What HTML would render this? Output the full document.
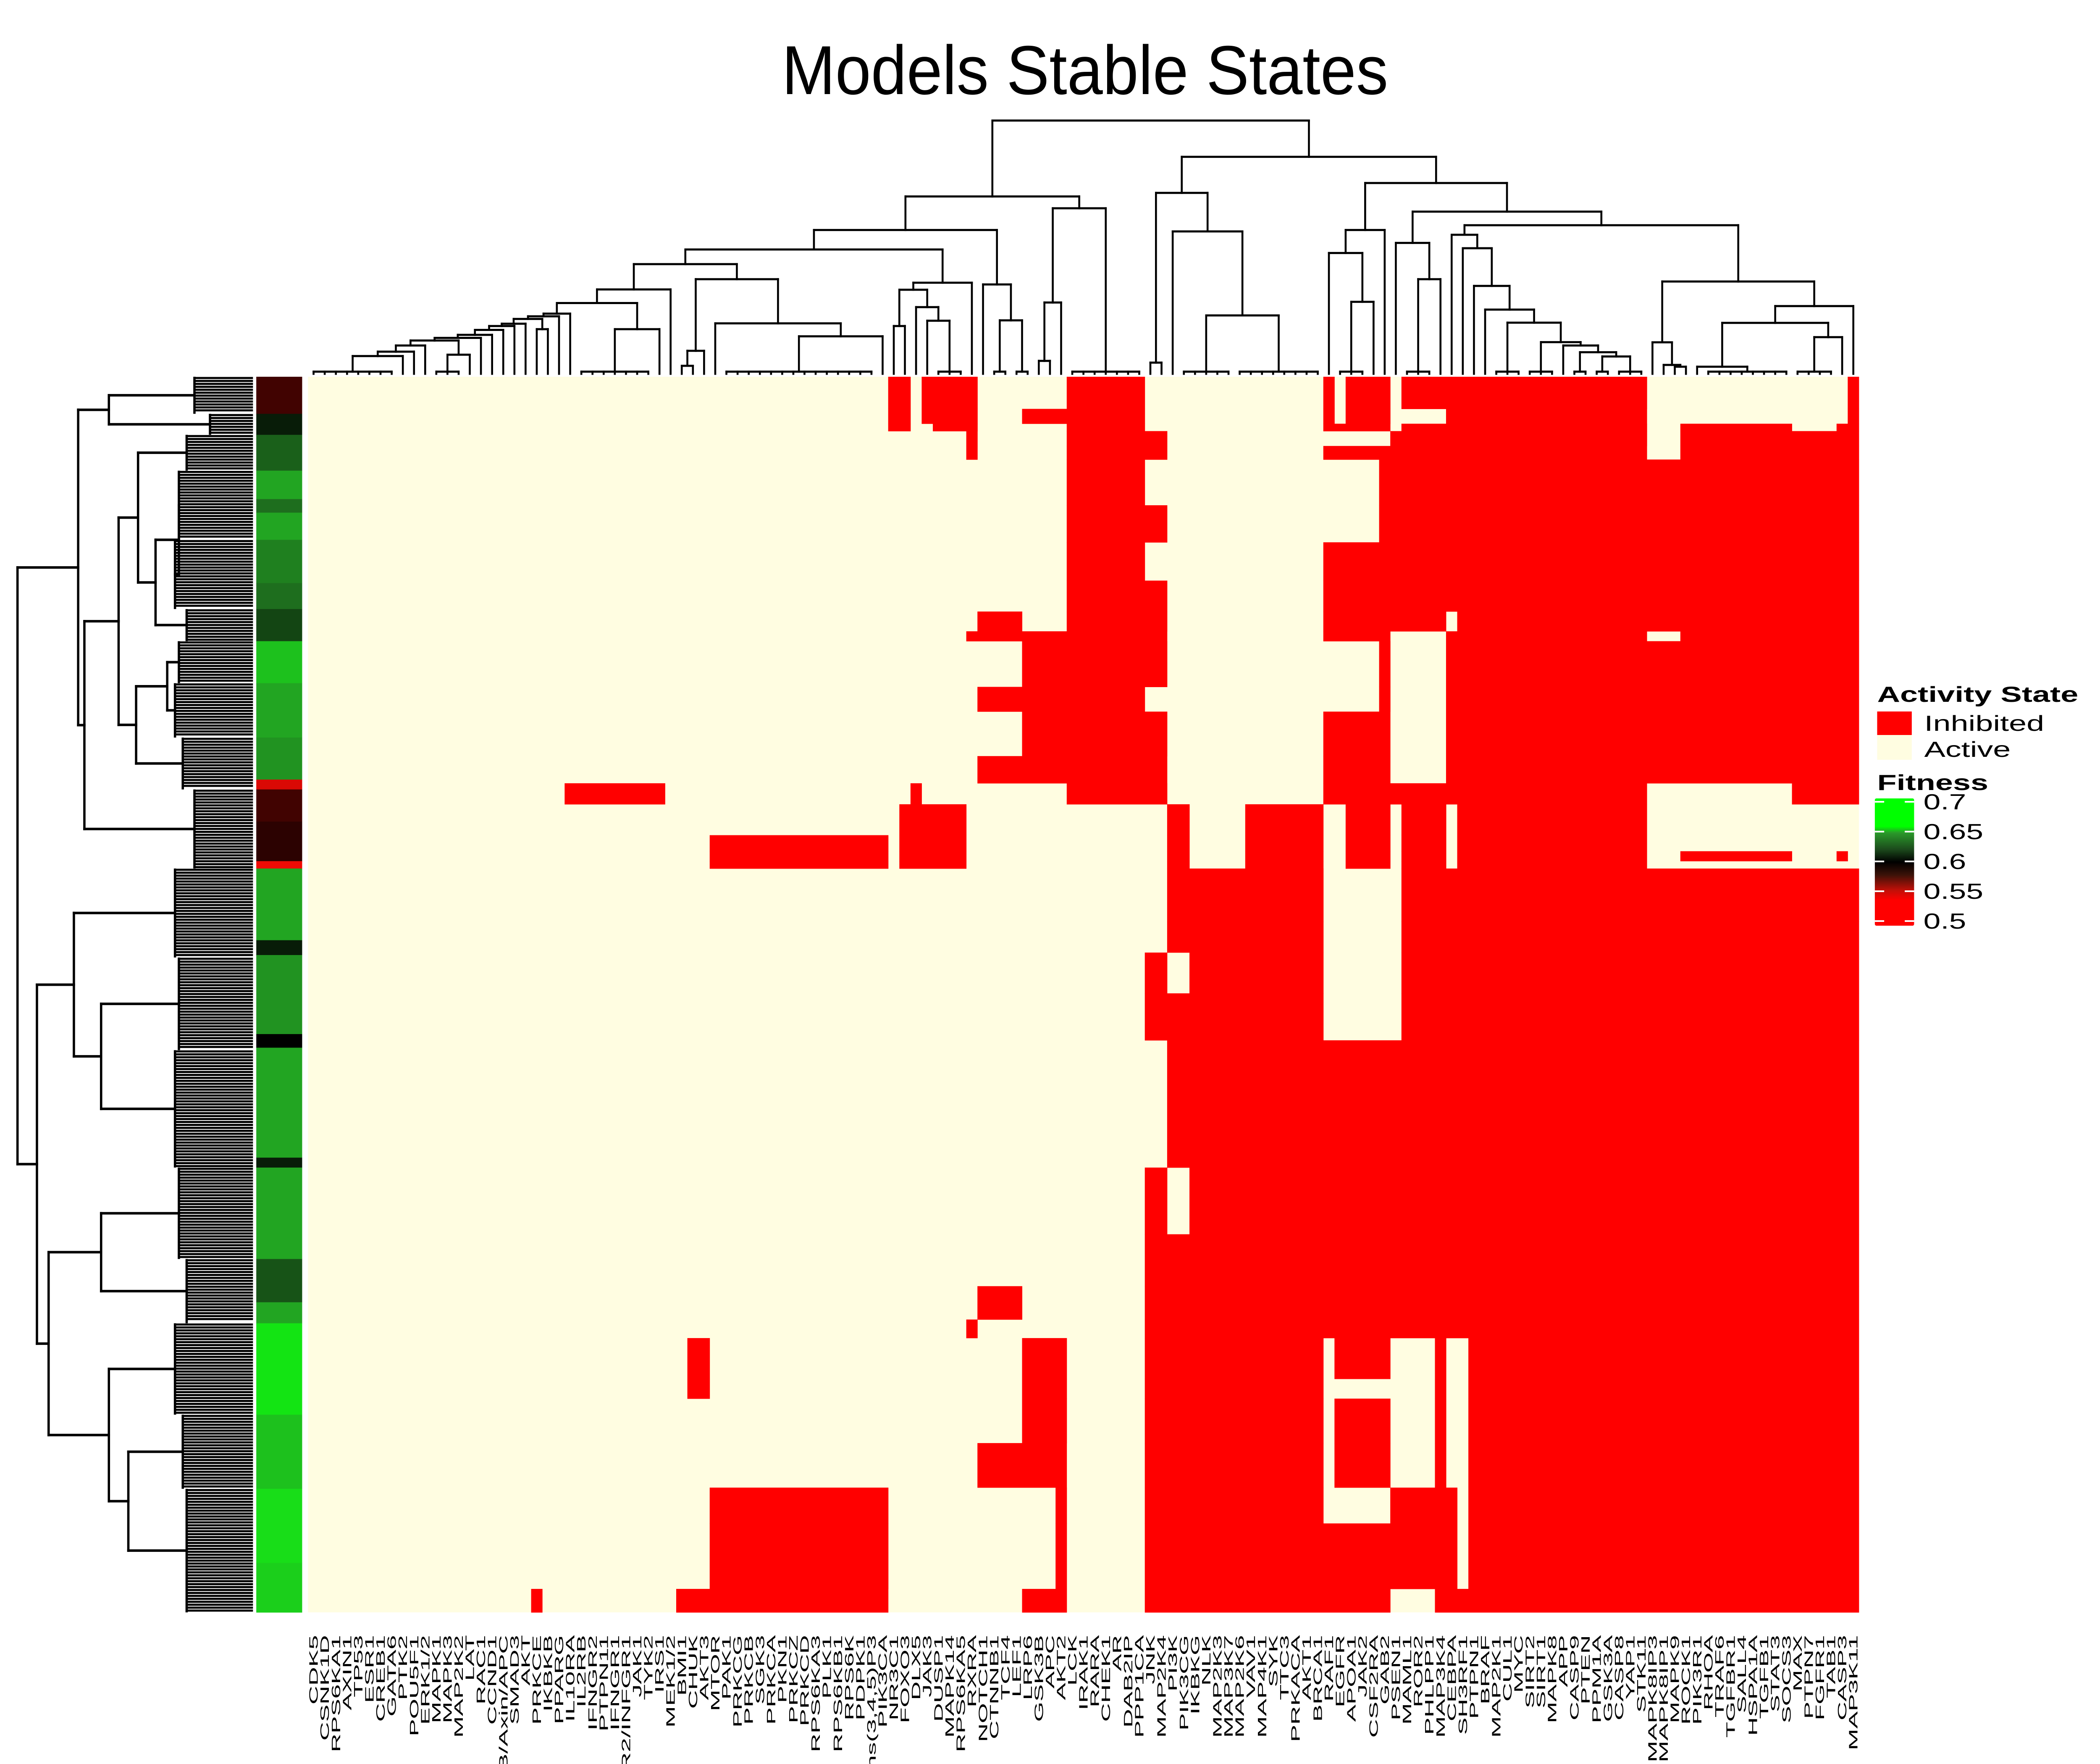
<!DOCTYPE html>
<html>
<head>
<meta charset="utf-8">
<title>Models Stable States</title>
<style>
  html, body { margin: 0; padding: 0; background: #ffffff; width: 100vw; height: 100vh; overflow: hidden; }
  svg { display: block; position: absolute; left: 0; top: 0; width: 100vw; height: 100vh; }
  text { font-family: "Liberation Sans", "DejaVu Sans", sans-serif; fill: #000; }
</style>
</head>
<body>
<svg id="chart" xmlns="http://www.w3.org/2000/svg" viewBox="0 0 5400 4200" preserveAspectRatio="none">
  <defs>
    <linearGradient id="fitGrad" x1="0" y1="0" x2="0" y2="1">
      <stop offset="0%" stop-color="#00ff00"/>
      <stop offset="22%" stop-color="#00ff00"/>
      <stop offset="27%" stop-color="#2a9a2a"/>
      <stop offset="40%" stop-color="#1c4a1c"/>
      <stop offset="50%" stop-color="#000000"/>
      <stop offset="60%" stop-color="#3a1208"/>
      <stop offset="72%" stop-color="#c01008"/>
      <stop offset="80%" stop-color="#ff0000"/>
      <stop offset="100%" stop-color="#ff0000"/>
    </linearGradient>
  </defs>
  <rect x="0" y="0" width="5400" height="4200" fill="#ffffff"/>
  <text x="2790" y="224" font-size="165" text-anchor="middle">Models Stable States</text>
  <g id="heat"></g>
  <g id="fit"></g>
  <g id="coldendro"></g>
  <g id="rowdendro"></g>
  <g id="collabels"></g>
  <g id="legend">
    <text transform="translate(4827,1671) scale(1.57,1)" font-size="52" font-weight="bold">Activity State</text>
    <rect x="4827" y="1694" width="89" height="56" fill="#ff0000"/>
    <rect x="4827" y="1750" width="89" height="59" fill="#fffde1"/>
    <text transform="translate(4948,1740) scale(1.57,1)" font-size="52">Inhibited</text>
    <text transform="translate(4948,1802) scale(1.57,1)" font-size="52">Active</text>
    <text transform="translate(4827,1881) scale(1.57,1)" font-size="52" font-weight="bold">Fitness</text>
    <rect x="4821" y="1901" width="101" height="303" rx="4" fill="url(#fitGrad)"/>
  </g>
</svg>
<script>
// ---------------- DATA ----------------
const columnLabels = ["CDK5","CSNK1D","RPS6KA1","AXIN1","TP53","ESR1","CREB1","GATA6","PTK2","POU5F1","ERK1/2","MAPK1","MAPK3","MAP2K2","LAT","RAC1","CCND1","GSK3B/Axin/APC","SMAD3","AKT","PRKCE","IKBKB","PPARG","IL10RA","IL2RB","IFNGR2","PTPN11","IFNGR1","IFNGR2/INFGR1","JAK1","TYK2","IRS1","MEK1/2","BMI1","CHUK","AKT3","MTOR","PAK1","PRKCG","PRKCB","SGK3","PRKCA","PKN1","PRKCZ","PRKCD","RPS6KA3","PLK1","RPS6KB1","RPS6K","PDPK1","PtsIns(3,4,5)P3","PIK3CA","NR3C1","FOXO3","DLX5","JAK3","DUSP1","MAPK14","RPS6KA5","RXRA","NOTCH1","CTNNB1","TCF4","LEF1","LRP6","GSK3B","APC","AKT2","LCK","IRAK1","RARA","CHEK1","AR","DAB2IP","PPP1CA","JNK","MAP2K4","PI3K","PIK3CG","IKBKG","NLK","MAP2K3","MAP3K7","MAP2K6","VAV1","MAP4K1","SYK","TTC3","PRKACA","AKT1","BRCA1","RAF1","EGFR","APOA1","JAK2","CSF2RA","GAB2","PSEN1","MAML1","ROR2","PHLPP1","MAP3K4","CEBPA","SH3RF1","PTPN1","BRAF","MAP2K1","CUL1","MYC","SIRT2","SIRT1","MAPK8","APP","CASP9","PTEN","PPM1A","GSK3A","CASP8","YAP1","STK11","MAPK8IP3","MAPK8IP1","MAPK9","ROCK1","PIK3R1","RHOA","TRAF6","TGFBR1","SALL4","HSPA1A","TGFB1","STAT3","SOCS3","MAX","PTPN7","FGFR1","TAB1","CASP3","MAP3K11"];

// model-row bands (ordered models scaled to 1000): start / end
const bandStart = [0,26,38,44,56,67,104,134,165,190,206,214,251,271,307,329,346,371,384,392,398,441,466,499,537,640,694,736,763,778,811,827,863,899,928,981];
const bandEnd   = [26,38,44,56,67,104,134,165,190,206,214,251,271,307,329,346,371,384,392,398,441,466,499,537,640,694,736,763,778,811,827,863,899,928,981,1000];
// inhibited column ranges (inclusive) per band
const inhibitedRanges = [
  [[52,53],[55,59],[68,74],[91,91],[93,96],[98,119],[138,138]],
  [[52,53],[55,59],[64,74],[91,91],[93,96],[102,119],[138,138]],
  [[52,53],[56,59],[68,74],[91,96],[98,119],[123,132],[137,138]],
  [[59,59],[68,76],[97,119],[123,138]],
  [[59,59],[68,76],[91,119],[123,138]],
  [[68,74],[96,138]],
  [[68,76],[96,138]],
  [[68,74],[91,138]],
  [[68,76],[91,138]],
  [[60,63],[68,76],[91,101],[103,138]],
  [[59,76],[91,96],[102,119],[123,138]],
  [[64,76],[96,96],[102,138]],
  [[60,74],[96,96],[102,138]],
  [[64,76],[91,96],[102,138]],
  [[60,76],[91,96],[102,138]],
  [[23,31],[54,54],[68,76],[91,119],[133,138]],
  [[53,58],[77,78],[84,90],[93,96],[98,101],[103,119]],
  [[36,51],[53,58],[77,78],[84,90],[93,96],[98,101],[103,119]],
  [[36,51],[53,58],[77,78],[84,90],[93,96],[98,101],[103,119],[123,132],[137,137]],
  [[36,51],[53,58],[77,78],[84,90],[93,96],[98,101],[103,119]],
  [[77,90],[98,138]],
  [[77,90],[98,138]],
  [[75,76],[79,90],[98,138]],
  [[75,90],[98,138]],
  [[77,138]],
  [[75,76],[79,138]],
  [[75,138]],
  [[60,63],[75,138]],
  [[59,59],[75,138]],
  [[34,35],[64,67],[75,90],[92,96],[101,101],[104,138]],
  [[34,35],[64,67],[75,90],[101,101],[104,138]],
  [[64,67],[75,90],[92,96],[101,101],[104,138]],
  [[60,67],[75,90],[92,96],[101,101],[104,138]],
  [[36,51],[67,67],[75,90],[97,102],[104,138]],
  [[36,51],[67,67],[75,102],[104,138]],
  [[20,20],[33,51],[64,67],[75,96],[101,138]]
];

// fitness per model-row band
const fitnessStart = [0,30,47,76,99,110,132,167,188,214,248,292,326,334,360,392,398,456,468,532,543,632,640,714,749,766,840,900,960];
const fitnessValue = [0.585,0.61,0.635,0.655,0.64,0.655,0.645,0.64,0.625,0.665,0.655,0.65,0.55,0.585,0.59,0.545,0.655,0.61,0.65,0.6,0.655,0.61,0.655,0.63,0.655,0.68,0.665,0.675,0.67];
const fitnessTicks = [0.7,0.65,0.6,0.55,0.5];
const fitnessTickLabels = ["0.7","0.65","0.6","0.55","0.5"];

// column dendrogram: [mergeHeight, left, right]; integer k = cluster of k leaves
const colTree = [88,
  [517,
    [707,
      [817,
        [900,
          [1043,
            [1120,
              [1180,[1195,[1210,[1237,[1250,[1272,[1300,[1317,[1332,[1360,[1395,[1420,8,1],1],1],[1412,3,1]],1],1],1],1],1],[1268,1,1]],1],1],
              [1268,7,1]],
            1],
          [985,[1390,[1475,1,1],1],[1235,1,[1308,14,1]]]],
        [1005,[1045,[1250,1,1],[1143,1,[1220,1,3]]],1]],
      [1015,1,[1218,2,2]]],
    [584,[1117,[1447,1,1],1],7]],
  [293,
    [497,[1457,1,1],[715,1,[1190,5,8]]],
    [441,
      [707,[837,1,[1113,3,1]],1],
      [603,
        [780,1,[985,3,1]],
        [680,
          [734,1,[810,1,[1023,1,[1157,1,[1231,3,[1341,3,[1360,1,[1398,2,[1422,2,3]]]]]]]]],
          [998,[1342,1,[1470,1,[1480,1,1]]],[1137,[1232,[1480,1,8],[1313,4,1]],1]]]]]]
];

// row dendrogram: leaf groups of models (start/end), tree of [mergeX, left, right]
const rowGroupStart = [0,30,47,76,132,188,214,248,292,334,398,470,545,640,714,766,840,900];
const rowGroupEnd   = [30,47,76,132,188,214,248,292,334,398,470,545,640,714,766,840,900,1000];
const rowTree = [45,
  [201,[280,0,1],[217,[305,[355,2,[400,[460,3,4],5]],[350,[430,6,7],8]],9]],
  [95,[190,10,[260,11,12]],[125,[260,13,14],[280,15,[330,16,17]]]]
];
</script>
<script>
(function(){
  const NS = 'http://www.w3.org/2000/svg';
  const X0 = 792, X1 = 4780, Y0 = 897, Y1 = 3839;
  const CW = (X1 - X0) / columnLabels.length;
  const xCol = i => X0 + i * CW;
  const yRow = r => Y0 + r * (Y1 - Y0) / 1000;
  function mk(tag, parent) { const e = document.createElementNS(NS, tag); parent.appendChild(e); return e; }

  // ---- heatmap ----
  const heat = document.getElementById('heat');
  const bg = mk('rect', heat);
  bg.setAttribute('x', X0); bg.setAttribute('y', Y0);
  bg.setAttribute('width', X1 - X0); bg.setAttribute('height', Y1 - Y0);
  bg.setAttribute('fill', '#fffde1');
  
  
  for (let s = 0; s < bandStart.length; s++) {
    const y0 = yRow(bandStart[s]), y1 = yRow(bandEnd[s]);
    inhibitedRanges[s].forEach(rg => {
      const r = mk('rect', heat);
      r.setAttribute('x', xCol(rg[0]).toFixed(1));
      r.setAttribute('y', y0.toFixed(1));
      r.setAttribute('width', ((rg[1] - rg[0] + 1) * CW + 0.5).toFixed(1));
      r.setAttribute('height', (y1 - y0 + 0.5).toFixed(1));
      r.setAttribute('fill', '#ff0000');
      
      
    });
  }

  // ---- fitness bar ----
  const stops = [[0.5,[255,0,0]],[0.545,[240,10,5]],[0.6,[0,0,0]],[0.64,[30,110,30]],[0.655,[34,165,34]],[0.675,[24,221,24]],[0.7,[0,255,0]]];
  function fitColor(v) {
    if (v <= stops[0][0]) return 'rgb(' + stops[0][1].join(',') + ')';
    for (let i = 1; i < stops.length; i++) {
      if (v <= stops[i][0]) {
        const t = (v - stops[i-1][0]) / (stops[i][0] - stops[i-1][0]);
        const c = stops[i-1][1].map((a, k) => Math.round(a + (stops[i][1][k] - a) * t));
        return 'rgb(' + c.join(',') + ')';
      }
    }
    return 'rgb(0,255,0)';
  }
  const fit = document.getElementById('fit');
  for (let i = 0; i < fitnessStart.length; i++) {
    const r0 = fitnessStart[i], r1 = (i + 1 < fitnessStart.length) ? fitnessStart[i+1] : 1000;
    const r = mk('rect', fit);
    r.setAttribute('x', 659); r.setAttribute('width', 118);
    r.setAttribute('y', yRow(r0).toFixed(1));
    r.setAttribute('height', (yRow(r1) - yRow(r0) + 0.5).toFixed(1));
    r.setAttribute('fill', fitColor(fitnessValue[i]));
    
    
  }

  // ---- legend ticks ----
  const legend = document.getElementById('legend');
  const yFit = v => 1909 + (0.7 - v) / 0.2 * 284;
  fitnessTicks.forEach((v, i) => {
    const y = yFit(v);
    [[4821, 4845], [4898, 4922]].forEach(p => {
      const l = mk('line', legend);
      l.setAttribute('x1', p[0]); l.setAttribute('x2', p[1]);
      l.setAttribute('y1', y); l.setAttribute('y2', y);
      l.setAttribute('stroke', '#ffffff'); l.setAttribute('stroke-width', 4);
      
      
    });
    const t = mk('text', legend);
    t.setAttribute('transform', 'translate(4946,' + (y + 18).toFixed(1) + ') scale(1.52,1)');
    t.setAttribute('font-size', 52);
    t.textContent = fitnessTickLabels[i];
    
    
  });

  // ---- column labels ----
  const lab = document.getElementById('collabels');
  columnLabels.forEach((name, i) => {
    const t = mk('text', lab);
    const xc = xCol(i) + CW / 2;
    t.setAttribute('transform', 'translate(' + xc.toFixed(1) + ',3893) rotate(-90) scale(2,1)');
    t.setAttribute('text-anchor', 'end');
    t.setAttribute('dy', '0.35em');
    t.setAttribute('font-size', 31);
    t.textContent = name;
    
    
  });

  // ---- column dendrogram ----
  const cd = document.getElementById('coldendro');
  const hy = zy => 250 + zy * 0.421;
  const LEAFY = 890;
  function line(parent, x1, y1, x2, y2, w, name) {
    const l = mk('line', parent);
    l.setAttribute('x1', x1.toFixed(1)); l.setAttribute('y1', y1.toFixed(1));
    l.setAttribute('x2', x2.toFixed(1)); l.setAttribute('y2', y2.toFixed(1));
    l.setAttribute('stroke', '#000'); l.setAttribute('stroke-width', w);
    l.setAttribute('stroke-linecap', 'square');
    
    
    return l;
  }
  let leafIdx = 0;
  function buildCol(node) {
    if (typeof node === 'number') {
      const first = leafIdx; leafIdx += node;
      const cx = i => xCol(i) + CW / 2;
      if (node === 1) return { x: cx(first), y: LEAFY };
      const y = hy(1508);
      for (let i = first; i < first + node; i++) line(cd, cx(i), y, cx(i), LEAFY, 5, 'column-dendrogram-leaf');
      line(cd, cx(first), y, cx(first + node - 1), y, 5, 'column-dendrogram-cluster');
      return { x: (cx(first) + cx(first + node - 1)) / 2, y: y };
    }
    const A = buildCol(node[1]), B = buildCol(node[2]);
    const y = hy(node[0]);
    line(cd, A.x, y, A.x, A.y, 5, 'column-dendrogram-branch');
    line(cd, B.x, y, B.x, B.y, 5, 'column-dendrogram-branch');
    line(cd, A.x, y, B.x, y, 5, 'column-dendrogram-merge');
    return { x: (A.x + B.x) / 2, y: y };
  }
  buildCol(colTree);

  // ---- row dendrogram ----
  const rd = document.getElementById('rowdendro');
  const combX = [500,540,480,460,450,480,460,450,470,500,450,460,450,460,480,450,470,480];
  const LEAFX = 648;
  function buildRow(node) {
    if (typeof node === 'number') {
      const g = node, xg = combX[g];
      const y0 = yRow(rowGroupStart[g]), y1 = yRow(rowGroupEnd[g]);
      line(rd, xg, y0 + 3, xg, y1 - 3, 6, 'row-dendrogram-group');
      for (let y = y0 + 3; y <= y1 - 3; y += 7) line(rd, xg, y, LEAFX, y, 5, 'row-dendrogram-leaf');
      return { x: xg, y: (y0 + y1) / 2 };
    }
    const A = buildRow(node[1]), B = buildRow(node[2]);
    const x = node[0];
    line(rd, x, A.y, A.x, A.y, 6, 'row-dendrogram-branch');
    line(rd, x, B.y, B.x, B.y, 6, 'row-dendrogram-branch');
    line(rd, x, A.y, x, B.y, 6, 'row-dendrogram-merge');
    return { x: x, y: (A.y + B.y) / 2 };
  }
  buildRow(rowTree);
})();
</script>
</body>
</html>
